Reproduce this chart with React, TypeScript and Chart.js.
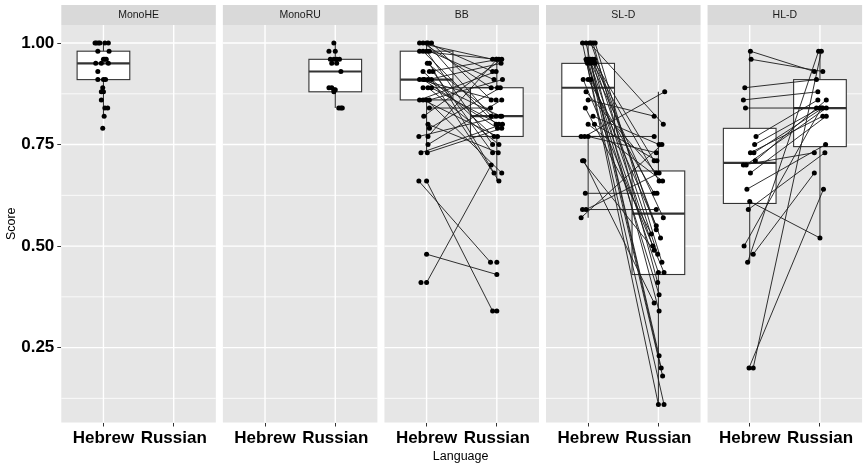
import React, { useEffect, useRef } from "react";
import { Chart, registerables } from "chart.js";

Chart.register(...registerables);

// ---------- data ----------
const facetNames = ["MonoHE", "MonoRU", "BB", "SL-D", "HL-D"];
const languages = ["Hebrew", "Russian"];
const yTickValues = [0.25, 0.5, 0.75, 1.0];
const yMinorValues = [0.125, 0.375, 0.625, 0.875];

const monoHeScores = [1, 1, 1, 1, 1, 1, 0.98, 0.98, 0.96, 0.96, 0.96, 0.95, 0.95, 0.95, 0.93, 0.91, 0.91, 0.91, 0.89, 0.88, 0.88, 0.86, 0.84, 0.84, 0.82, 0.79];
const monoHeJitter = [-0.12, -0.1, -0.07, -0.05, 0.02, 0.07, -0.08, 0.08, 0, 0.02, 0.04, -0.11, -0.03, 0.07, -0.08, -0.08, 0, 0.03, -0.01, -0.03, 0, -0.03, 0.02, 0.06, 0.01, -0.01];

const monoRuScores = [1.0, 0.98, 0.98, 0.96, 0.96, 0.96, 0.96, 0.95, 0.95, 0.93, 0.89, 0.89, 0.885, 0.885, 0.88, 0.84, 0.84, 0.84];
const monoRuJitter = [-0.02, -0.09, 0, -0.07, -0.02, 0.02, 0.06, -0.05, 0.02, 0.08, -0.09, -0.05, -0.02, 0, -0.02, 0.05, 0.08, 0.1];

const bbHebrew = [1, 1, 1, 1, 1, 0.98, 0.98, 0.98, 0.98, 0.95, 0.95, 0.93, 0.93, 0.93, 0.91, 0.91, 0.91, 0.91, 0.91, 0.89, 0.89, 0.89, 0.86, 0.86, 0.86, 0.86, 0.84, 0.82, 0.8, 0.79, 0.77, 0.77, 0.75, 0.73, 0.73, 0.66, 0.66, 0.48, 0.41, 0.41, null, null];
const bbHebrewJitter = [-0.1, -0.05, 0, 0.07, 0.02, -0.1, -0.05, 0, 0.04, 0.01, 0.04, -0.05, 0.04, 0.09, -0.1, -0.05, 0.02, 0.07, -0.03, -0.05, 0.02, 0.07, -0.1, -0.05, 0, 0.04, 0.04, -0.04, 0.02, 0.04, -0.11, 0.02, 0.02, -0.08, 0.01, -0.11, 0, 0, 0, -0.08, 0, 0];
const bbRussian = [0.96, 0.89, 0.82, 0.86, 0.93, 0.96, 0.8, 0.75, 0.91, 0.82, 0.68, 0.77, 0.96, 0.73, 0.86, 0.79, 0.95, 0.66, 0.82, 0.89, 0.75, 0.8, 0.93, 0.77, 0.68, 0.91, 0.84, 0.96, 0.73, 0.89, 0.82, 0.96, 0.86, 0.8, 0.79, 0.46, 0.34, 0.43, 0.7, null, 0.46, 0.34];
const bbRussianJitter = [-0.06, -0.08, -0.08, -0.08, -0.06, -0.01, -0.01, -0.06, -0.04, -0.01, -0.04, -0.04, 0.03, -0.06, -0.01, 0.01, 0.06, 0.03, 0.05, 0.01, 0.03, 0.03, -0.01, 0.01, 0.07, 0.08, -0.09, 0.07, 0.02, 0.05, 0.07, 0, 0.07, 0.08, 0.07, -0.09, -0.06, 0, -0.08, 0, 0, 0];

const slHebrew = [1, 1, 1, 1, 1, 1, 0.96, 0.96, 0.96, 0.96, 0.96, 0.955, 0.955, 0.955, 0.955, 0.95, 0.95, 0.95, 0.91, 0.91, 0.91, 0.88, 0.86, 0.84, 0.82, 0.8, 0.8, 0.77, 0.77, 0.77, 0.71, 0.71, 0.63, 0.59, 0.59, 0.57];
const slHebrewJitter = [-0.08, -0.03, 0.02, 0.07, 0.1, 0.04, -0.03, 0, 0.03, 0.06, 0.09, -0.02, 0.02, 0.05, 0.08, -0.01, 0.04, 0.1, -0.07, 0, 0.04, -0.03, 0, -0.04, 0.07, 0, 0.09, -0.1, -0.05, 0, -0.08, -0.06, -0.04, -0.08, -0.03, -0.1];
const slRussian = [0.11, 0.2, 0.8, 0.41, 0.46, 0.54, 0.11, 0.18, 0.23, 0.34, 0.52, 0.435, 0.5, 0.66, 0.48, 0.38, 0.57, 0.71, 0.435, 0.63, 0.55, 0.68, 0.82, 0.53, 0.75, 0.66, 0.71, 0.77, 0.88, 0.73, 0.49, 0.36, 0.63, 0.59, 0.68, 0.75];
const slRussianJitter = [0, 0.04, 0.07, -0.01, 0.05, -0.03, 0.08, 0.06, 0.01, 0.01, 0.03, 0, -0.08, 0.01, -0.01, 0.01, 0.07, -0.06, 0.08, -0.06, -0.03, -0.03, -0.06, -0.1, 0.01, 0.06, -0.02, -0.06, 0.09, -0.03, -0.06, -0.06, -0.02, -0.03, 0.01, 0.05];

const hlHebrew = [0.98, 0.96, 0.89, 0.86, 0.84, 0.77, 0.75, 0.73, 0.73, 0.71, 0.7, 0.7, 0.68, 0.64, 0.61, 0.59, 0.5, 0.48, 0.46, 0.2, 0.2];
const hlHebrewJitter = [0.01, 0.02, -0.07, -0.09, -0.06, 0.09, 0.07, 0.01, 0.06, 0.08, -0.09, -0.05, 0.01, -0.04, 0, -0.02, -0.08, 0.05, -0.03, -0.01, 0.05];
const hlRussian = [0.93, 0.93, 0.91, 0.88, 0.84, 0.86, 0.84, 0.82, 0.84, 0.86, 0.73, 0.84, 0.82, 0.75, 0.52, 0.73, 0.84, 0.68, 0.98, 0.64, 0.98];
const hlRussianJitter = [-0.08, 0.04, -0.05, -0.03, -0.05, -0.03, 0, 0.04, 0.04, 0.09, -0.08, 0.09, 0.09, 0.08, 0, 0.07, 0.02, -0.08, -0.02, 0.05, 0.02];

// boxplot summaries (facet index, language 1/2)
const boxFacet = [0, 1, 2, 2, 3, 3, 4, 4];
const boxLanguage = [1, 2, 1, 2, 1, 2, 1, 2];
const boxLow = [0.82, 0.84, 0.73, 0.66, 0.57, 0.11, 0.46, 0.52];
const boxQ1 = [0.91, 0.88, 0.86, 0.77, 0.77, 0.43, 0.605, 0.745];
const boxMedian = [0.95, 0.93, 0.91, 0.82, 0.89, 0.58, 0.705, 0.84];
const boxQ3 = [0.98, 0.96, 0.98, 0.89, 0.95, 0.685, 0.79, 0.91];
const boxHigh = [1.0, 1.0, 1.0, 0.96, 1.0, 0.88, 0.98, 0.98];

// ---------- layout ----------
const FONT = "'Liberation Sans', Arial, Helvetica, sans-serif";
const FACET_STEP = 2.3;
const X_MIN = 0.4;
const X_MAX = 11.77;
const Y_MIN = 0.0655;
const Y_MAX = 1.0445;
const BOX_HALF = 0.375;
const STRIP_H = 20;

const hebrewByFacet: (number | null)[][] = [monoHeScores, [], bbHebrew, slHebrew, hlHebrew];
const hebrewJitterByFacet: number[][] = [monoHeJitter, [], bbHebrewJitter, slHebrewJitter, hlHebrewJitter];
const russianByFacet: (number | null)[][] = [[], monoRuScores, bbRussian, slRussian, hlRussian];
const russianJitterByFacet: number[][] = [[], monoRuJitter, bbRussianJitter, slRussianJitter, hlRussianJitter];

const xTickValues: number[] = [];
const xTickLabels: string[] = [];
facetNames.forEach((_, f) => {
  languages.forEach((lang, c) => {
    xTickValues.push(f * FACET_STEP + c + 1);
    xTickLabels.push(lang);
  });
});

function buildDatasets() {
  const ds: any[] = [];
  facetNames.forEach((_, f) => {
    const off = f * FACET_STEP;
    const he = hebrewByFacet[f];
    const heJ = hebrewJitterByFacet[f];
    const ru = russianByFacet[f];
    const ruJ = russianJitterByFacet[f];
    if (he.length && ru.length) {
      const line: any[] = [];
      for (let i = 0; i < he.length; i++) {
        if (he[i] != null && ru[i] != null) {
          line.push({ x: off + 1 + heJ[i], y: he[i] });
          line.push({ x: off + 2 + ruJ[i], y: ru[i] });
          line.push({ x: off + 1.5, y: null });
        }
      }
      ds.push({
        type: "line",
        data: line,
        showLine: true,
        spanGaps: false,
        borderColor: "#1a1a1a",
        borderWidth: 0.9,
        pointRadius: 0,
        pointHoverRadius: 0,
        fill: false,
        tension: 0,
        order: 2,
      });
    }
    const pts: any[] = [];
    he.forEach((v, i) => {
      if (v != null) pts.push({ x: off + 1 + heJ[i], y: v });
    });
    ru.forEach((v, i) => {
      if (v != null) pts.push({ x: off + 2 + ruJ[i], y: v });
    });
    ds.push({
      type: "scatter",
      data: pts,
      pointRadius: 2.5,
      pointBackgroundColor: "#000000",
      pointBorderColor: "#000000",
      pointBorderWidth: 0,
      order: 1,
    });
  });
  return ds;
}

const panelPlugin = {
  id: "facetPanels",
  beforeDraw(chart: any) {
    const { ctx, chartArea, scales } = chart;
    const xs = scales.x;
    const ys = scales.y;
    ctx.save();
    facetNames.forEach((name, f) => {
      const off = f * FACET_STEP;
      const l = xs.getPixelForValue(off + 0.4);
      const r = Math.min(xs.getPixelForValue(off + 2.6), chart.width);
      const t = chartArea.top;
      const b = chartArea.bottom;
      // strip
      ctx.fillStyle = "#d9d9d9";
      ctx.fillRect(l, t - STRIP_H, r - l, STRIP_H);
      ctx.fillStyle = "#1a1a1a";
      ctx.font = `10.5px ${FONT}`;
      ctx.textAlign = "center";
      ctx.textBaseline = "middle";
      ctx.fillText(name, (l + r) / 2, t - STRIP_H / 2 + 0.5);
      // panel
      ctx.fillStyle = "#e6e6e6";
      ctx.fillRect(l, t, r - l, b - t);
      ctx.strokeStyle = "#ffffff";
      ctx.lineWidth = 0.8;
      yMinorValues.forEach((v) => {
        const y = ys.getPixelForValue(v);
        ctx.beginPath();
        ctx.moveTo(l, y);
        ctx.lineTo(r, y);
        ctx.stroke();
      });
      ctx.lineWidth = 1.4;
      yTickValues.forEach((v) => {
        const y = ys.getPixelForValue(v);
        ctx.beginPath();
        ctx.moveTo(l, y);
        ctx.lineTo(r, y);
        ctx.stroke();
      });
      [1, 2].forEach((c) => {
        const x = xs.getPixelForValue(off + c);
        ctx.beginPath();
        ctx.moveTo(x, t);
        ctx.lineTo(x, b);
        ctx.stroke();
      });
    });
    ctx.restore();
  },
  beforeDatasetsDraw(chart: any) {
    const { ctx, scales } = chart;
    const xs = scales.x;
    const ys = scales.y;
    ctx.save();
    boxFacet.forEach((f, i) => {
      const cx = f * FACET_STEP + boxLanguage[i];
      const xc = xs.getPixelForValue(cx);
      const xl = xs.getPixelForValue(cx - BOX_HALF);
      const xr = xs.getPixelForValue(cx + BOX_HALF);
      const yLo = ys.getPixelForValue(boxLow[i]);
      const yQ1 = ys.getPixelForValue(boxQ1[i]);
      const yMed = ys.getPixelForValue(boxMedian[i]);
      const yQ3 = ys.getPixelForValue(boxQ3[i]);
      const yHi = ys.getPixelForValue(boxHigh[i]);
      ctx.strokeStyle = "#333333";
      ctx.lineWidth = 1.1;
      ctx.beginPath();
      ctx.moveTo(xc, yHi);
      ctx.lineTo(xc, yQ3);
      ctx.moveTo(xc, yQ1);
      ctx.lineTo(xc, yLo);
      ctx.stroke();
      ctx.fillStyle = "#ffffff";
      ctx.fillRect(xl, yQ3, xr - xl, yQ1 - yQ3);
      ctx.strokeRect(xl, yQ3, xr - xl, yQ1 - yQ3);
      ctx.lineWidth = 2.2;
      ctx.beginPath();
      ctx.moveTo(xl, yMed);
      ctx.lineTo(xr, yMed);
      ctx.stroke();
    });
    ctx.restore();
  },
};

export default function App() {
  const canvasRef = useRef<HTMLCanvasElement | null>(null);

  useEffect(() => {
    const canvas = canvasRef.current;
    if (!canvas) return;
    const chart = new Chart(canvas, {
      type: "scatter",
      data: { datasets: buildDatasets() },
      options: {
        animation: false,
        responsive: false,
        maintainAspectRatio: false,
        devicePixelRatio: 1,
        layout: { padding: { top: 25, right: 0, bottom: 0, left: 0 } },
        plugins: {
          legend: { display: false },
          tooltip: { enabled: false },
        },
        events: [],
        scales: {
          x: {
            type: "linear",
            min: X_MIN,
            max: X_MAX,
            afterBuildTicks: (s: any) => {
              s.ticks = xTickValues.map((v) => ({ value: v }));
            },
            afterFit: (s: any) => {
              s.height = 42.5;
            },
            ticks: {
              autoSkip: false,
              maxRotation: 0,
              minRotation: 0,
              padding: 2,
              color: "#000000",
              font: { family: FONT, size: 17, weight: "bold" },
              callback: (_v: any, i: number) => xTickLabels[i],
            },
            grid: {
              drawOnChartArea: false,
              drawTicks: true,
              tickLength: 4,
              color: "#333333",
              lineWidth: 1,
            },
            border: { display: false },
            title: {
              display: true,
              text: "Language",
              color: "#000000",
              font: { family: FONT, size: 12.5 },
              padding: { top: 0, bottom: 1 },
            },
          },
          y: {
            type: "linear",
            min: Y_MIN,
            max: Y_MAX,
            afterBuildTicks: (s: any) => {
              s.ticks = yTickValues.map((v) => ({ value: v }));
            },
            afterFit: (s: any) => {
              s.width = 61.3;
            },
            ticks: {
              padding: 3,
              color: "#000000",
              font: { family: FONT, size: 17, weight: "bold" },
              callback: (v: any) => Number(v).toFixed(2),
            },
            grid: {
              drawOnChartArea: false,
              drawTicks: true,
              tickLength: 4,
              color: "#333333",
              lineWidth: 1,
            },
            border: { display: false },
            title: {
              display: true,
              text: "Score",
              color: "#000000",
              font: { family: FONT, size: 12.5 },
              padding: { top: 4, bottom: 0 },
            },
          },
        },
      },
      plugins: [panelPlugin],
    } as any);
    return () => chart.destroy();
  }, []);

  return (
    <div style={{ position: "absolute", left: 0, top: 0, width: 864, height: 465, background: "#ffffff" }}>
      <canvas ref={canvasRef} width={864} height={465} style={{ display: "block", width: 864, height: 465 }} />
    </div>
  );
}
